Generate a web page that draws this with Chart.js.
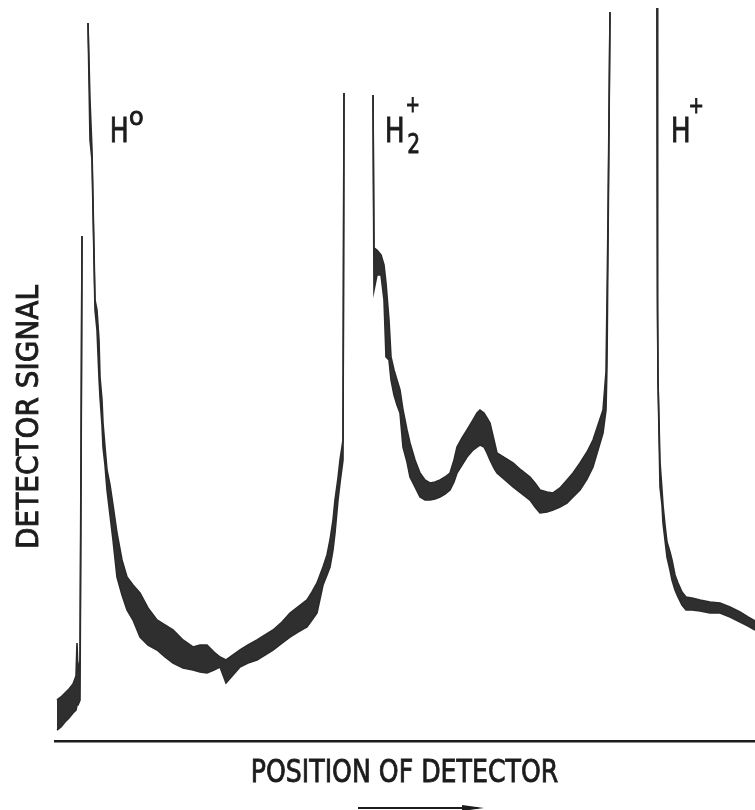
<!DOCTYPE html>
<html>
<head>
<meta charset="utf-8">
<script src="https://cdn.jsdelivr.net/npm/chart.js@4.4.0/dist/chart.umd.min.js"></script>
<style>
  html, body { margin: 0; padding: 0; background: #fff; }
</style>
</head>
<body>
<canvas id="trace" width="755" height="810"></canvas>
<script>
// detector position (arbitrary units), null = pen off scale (gap)
const position = [
  2, 6, 10, 14, 18, 21, 22, 23, 25, 26, 27, null,
  33, 35, 37, 40, 42, 44, 45, 47, 48, 50, 52, 55, 58, 62, 67, 72, 78, 85, 93, 102,
  110, 118, 128, 138, 145, 152, 159, 165, 171, 178, 185, 193, 202, 210, 218, 227,
  235, 243, 252, 257, 262, 268, 272, 275, 278, 280, 283, 285, 288, 289, null,
  318, 319, 322, 326, 329, 331, 334, 336, 339, 342, 345, 348, 352, 355, 360, 365,
  370, 375, 380, 385, 390, 395, 399, 402, 407, 412, 418, 422, 425, 429, 432, 435,
  439, 442, 450, 458, 466, 475, 480, 485, 492, 498, 505, 512, 518, 525, 532, 538,
  543, 548, 551, 552, 553, 555, null,
  602, 602.5, 603, 605, 607, 608, 610, 612, 615, 617, 620, 623, 627, 631, 637, 645,
  655, 665, 675, 685, 693, 700
];
// upper edge of the recorded trace band
const upper = [
  41, 44, 48, 52, 57, 65, 98, 69, 81, 284, 505, null,
  718, 641, 591, 441, 431, 401, 364, 341, 318, 294, 271, 256, 236, 208, 181, 164, 156, 148, 133, 121,
  116, 111, 101, 94, 96, 96, 89, 84, 81, 86, 91, 96, 101, 106, 111, 119,
  128, 134, 141, 149, 158, 174, 186, 201, 221, 241, 263, 281, 301, 648, null,
  646, 493, 491, 486, 476, 458, 421, 384, 371, 361, 351, 331, 311, 298, 281, 268,
  261, 258, 259, 261, 264, 268, 281, 294, 303, 311, 321, 328, 331, 328, 323, 318,
  301, 288, 283, 278, 271, 264, 258, 251, 249, 248, 253, 261, 268, 278, 289, 301,
  316, 331, 369, 441, 524, 729, null,
  733, 448, 361, 279, 251, 236, 216, 199, 189, 181, 166, 158, 149, 144, 143, 141,
  139, 138, 134, 129, 124, 120
];
// lower edge of the recorded trace band
const lower = [
  11, 14, 19, 23, 28, 31, 36, 36, 41, 248, 505, null,
  718, 601, 581, 431, 411, 363, 344, 316, 294, 276, 251, 226, 201, 164, 146, 131, 121, 104, 96, 91,
  84, 78, 73, 71, 69, 68, 71, 74, 58, 66, 74, 78, 81, 86, 91, 98,
  104, 109, 114, 121, 128, 156, 166, 174, 191, 208, 241, 258, 281, 648, null,
  646, 451, 466, 466, 441, 384, 381, 361, 346, 336, 328, 294, 279, 264, 254, 244,
  241, 241, 242, 244, 247, 251, 259, 268, 276, 284, 291, 294, 296, 294, 288, 281,
  273, 268, 261, 254, 248, 241, 234, 228, 229, 231, 234, 238, 244, 251, 262, 274,
  291, 308, 331, 376, 494, 729, null,
  733, 430, 361, 254, 236, 218, 201, 184, 171, 161, 151, 144, 136, 131, 131, 130,
  128, 128, 124, 119, 115, 111
];

const xTitle = "POSITION OF DETECTOR";
const yTitle = "DETECTOR SIGNAL";

const INK = "#1c1c1c";
const TRACE = "#2b2b2b";
const FONT = "'DejaVu Sans', sans-serif";

// split the trace into pen segments at the gaps
function buildDatasets() {
  const sets = [];
  let up = [], lo = [];
  const flush = () => {
    if (!up.length) return;
    sets.push({ data: up, borderColor: TRACE, borderWidth: 1.6, pointRadius: 0, fill: false });
    sets.push({ data: lo, borderColor: TRACE, borderWidth: 1.6, pointRadius: 0,
                fill: "-1", backgroundColor: "#2f2f2f" });
    up = []; lo = [];
  };
  for (let i = 0; i < position.length; i++) {
    if (position[i] === null) { flush(); continue; }
    up.push({ x: position[i], y: upper[i] });
    lo.push({ x: position[i], y: lower[i] });
  }
  flush();
  return sets;
}

// text squeezed to a given ink width, centred on cx
function fitText(ctx, str, cx, cy, size, width, angle) {
  ctx.save();
  ctx.font = size + "px " + FONT;
  const m = ctx.measureText(str);
  const ink = m.actualBoundingBoxLeft + m.actualBoundingBoxRight;
  ctx.translate(cx, cy);
  ctx.rotate(angle);
  ctx.scale(width / ink, 1);
  ctx.textAlign = "center";
  ctx.textBaseline = "alphabetic";
  ctx.fillText(str, 0, 0);
  ctx.strokeText(str, 0, 0);
  ctx.restore();
}

// narrow label, left edge of ink at x
function label(ctx, str, x, baseline, size, sx) {
  ctx.save();
  ctx.font = size + "px " + FONT;
  const m = ctx.measureText(str);
  ctx.translate(x + m.actualBoundingBoxLeft * sx, baseline);
  ctx.scale(sx, 1);
  ctx.textAlign = "left";
  ctx.textBaseline = "alphabetic";
  ctx.fillText(str, 0, 0);
  ctx.strokeText(str, 0, 0);
  ctx.restore();
}

const annotations = {
  id: "annotations",
  afterDraw(chart) {
    const ctx = chart.ctx;
    ctx.save();
    ctx.fillStyle = INK;
    ctx.strokeStyle = INK;
    ctx.lineWidth = 0.9;

    fitText(ctx, xTitle, 404.5, 782, 32, 305, 0);
    fitText(ctx, yTitle, 38, 417, 31, 262, -Math.PI / 2);

    // species labels
    label(ctx, "H", 112, 142, 34, 0.74);
    label(ctx, "o", 130, 125, 24, 1.0);
    label(ctx, "H", 387, 142, 34, 0.78);
    label(ctx, "+", 407, 112, 23, 0.75);
    label(ctx, "2", 408, 153, 27, 0.75);
    label(ctx, "H", 673, 142, 34, 0.78);
    label(ctx, "+", 690, 113, 23, 0.8);

    // direction arrow under the axis title
    ctx.lineWidth = 2;
    ctx.beginPath();
    ctx.moveTo(358, 808);
    ctx.lineTo(478, 808);
    ctx.stroke();
    ctx.beginPath();
    ctx.moveTo(484, 808);
    ctx.lineTo(462, 805);
    ctx.lineTo(462, 811);
    ctx.closePath();
    ctx.fill();
    ctx.restore();
  }
};

const chart = new Chart(document.getElementById("trace").getContext("2d"), {
  type: "line",
  data: { datasets: buildDatasets() },
  options: {
    responsive: false,
    animation: false,
    layout: { padding: { left: 55, right: 0, top: 0, bottom: 0 } },
    plugins: { legend: { display: false }, tooltip: { enabled: false } },
    elements: { line: { tension: 0 } },
    scales: {
      x: {
        type: "linear",
        min: 0,
        max: 700,
        ticks: { display: false },
        grid: { display: false },
        border: { display: true, color: INK, width: 2.5 },
        afterFit: (scale) => { scale.height = 69; }
      },
      y: {
        min: 0,
        max: 741,
        display: false
      }
    }
  },
  plugins: [annotations]
});
</script>
</body>
</html>
